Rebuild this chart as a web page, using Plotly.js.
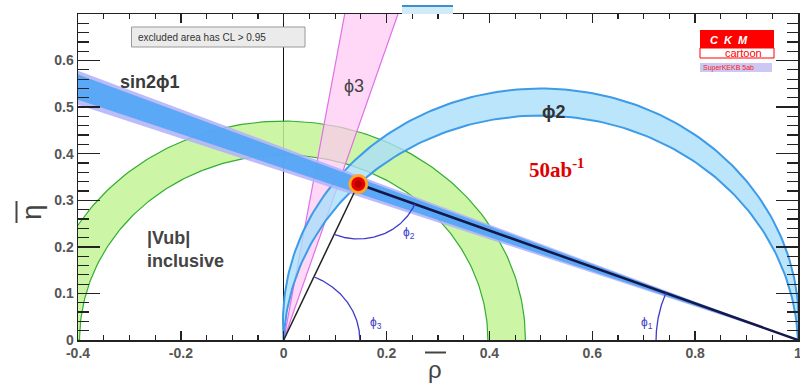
<!DOCTYPE html>
<html>
<head>
<meta charset="utf-8">
<script src="https://cdn.plot.ly/plotly-3.0.1.min.js"></script>
<style>html,body{margin:0;padding:0;background:#fff;}#chart{width:800px;height:383px;}</style>
</head>
<body>
<div id="chart"></div>
<script>
// ---- values ----
const apex = [0.145, 0.335];                 // (rho-bar, eta-bar) apex of the triangle
const baseLeft = [0, 0];
const baseRight = [1, 0];
const vubRadii = [0.397, 0.47];              // |Vub| inclusive annulus radii
const phi2Tops = [0.482, 0.54];              // phi2 band: heights of inner/outer arcs
const sin2phi1Dark = [0.516, 0.570];         // eta-bar of dark band edges at rho=-0.4
const sin2phi1Light = [0.505, 0.578];        // eta-bar of light band edges at rho=-0.4
const phi3Slopes = [3.15, 5.9];              // eta/rho of the phi3 wedge edges
const angleArcRadii = [0.276, 0.118, 0.148]; // phi1, phi2, phi3 arc radii
const xTickVals = [-0.4, -0.2, 0, 0.2, 0.4, 0.6, 0.8, 1];
const xTickText = ['-0.4', '-0.2', '0', '0.2', '0.4', '0.6', '0.8', '1'];
const yTickVals = [0, 0.1, 0.2, 0.3, 0.4, 0.5, 0.6];
const yTickText = ['0', '0.1', '0.2', '0.3', '0.4', '0.5', '0.6'];

// ---- geometry helpers ----
const N = 180;
function arc(cx, cy, r, a0, a1) {
  const xs = [], ys = [];
  for (let i = 0; i <= N; i++) {
    const a = a0 + (a1 - a0) * i / N;
    xs.push(cx + r * Math.cos(a)); ys.push(cy + r * Math.sin(a));
  }
  return [xs, ys];
}
function chordArc(h) { // circle through (0,0),(1,0) with top height h
  const c = (h * h - 0.25) / (2 * h), r = h - c;
  const a0 = Math.atan2(-c, 0.5);
  return arc(0.5, c, r, a0, Math.PI - a0);
}
function ring(r1, r2) {
  const o = arc(0, 0, r2, 0, Math.PI), i = arc(0, 0, r1, Math.PI, 0);
  return [o[0].concat(i[0]), o[1].concat(i[1])];
}
function wedgeFromRight(e1, e2) { // band through (1,0), edges given at rho=-0.4
  const s1 = e1 / 1.4, s2 = e2 / 1.4;
  return [[1, -0.6, -0.6, 1], [0, s1 * 1.6, s2 * 1.6, 0]];
}

const traces = [];
// |Vub| annulus
const g = ring(vubRadii[0], vubRadii[1]);
traces.push({x: g[0], y: g[1], mode: 'lines', fill: 'toself', fillcolor: 'rgba(196,243,150,0.85)',
  line: {color: '#34ad34', width: 1.2}, hoverinfo: 'skip'});
// phi3 wedge
traces.push({x: [0, 0.9 / phi3Slopes[0], 0.9 / phi3Slopes[1], 0], y: [0, 0.9, 0.9, 0], mode: 'lines', fill: 'toself',
  fillcolor: 'rgba(255,200,245,0.7)', line: {color: '#e070e6', width: 1.2}, hoverinfo: 'skip'});
// phi2 band
const p2o = chordArc(phi2Tops[1]), p2i = chordArc(phi2Tops[0]);
traces.push({x: p2o[0].concat(p2i[0].slice().reverse()), y: p2o[1].concat(p2i[1].slice().reverse()),
  mode: 'lines', fill: 'toself', fillcolor: 'rgba(170,222,250,0.8)', line: {color: 'rgba(0,0,0,0)', width: 0}, hoverinfo: 'skip'});
traces.push({x: p2o[0], y: p2o[1], mode: 'lines', line: {color: '#3d9be8', width: 2}, hoverinfo: 'skip'});
traces.push({x: p2i[0], y: p2i[1], mode: 'lines', line: {color: '#3d9be8', width: 2}, hoverinfo: 'skip'});
// sin2phi1 band
const sl = wedgeFromRight(sin2phi1Light[0], sin2phi1Light[1]);
traces.push({x: sl[0], y: sl[1], mode: 'lines', fill: 'toself', fillcolor: 'rgba(176,176,250,0.85)',
  line: {width: 0, color: 'rgba(0,0,0,0)'}, hoverinfo: 'skip'});
const sd = wedgeFromRight(sin2phi1Dark[0], sin2phi1Dark[1]);
traces.push({x: sd[0], y: sd[1], mode: 'lines', fill: 'toself', fillcolor: 'rgba(80,165,245,0.9)',
  line: {width: 0, color: 'rgba(0,0,0,0)'}, hoverinfo: 'skip'});
// triangle sides
traces.push({x: [baseLeft[0], apex[0]], y: [baseLeft[1], apex[1]], mode: 'lines', line: {color: '#222', width: 1.5}, hoverinfo: 'skip'});
traces.push({x: [apex[0], baseRight[0]], y: [apex[1], baseRight[1]], mode: 'lines', line: {color: '#15184a', width: 2.5}, hoverinfo: 'skip'});
// angle arcs
const angB = Math.atan2(apex[1] - baseRight[1], apex[0] - baseRight[0]);
const angG = Math.atan2(apex[1], apex[0]);
const a1 = arc(baseRight[0], baseRight[1], angleArcRadii[0], angB, Math.PI);
const a2 = arc(apex[0], apex[1], angleArcRadii[1], angG + Math.PI, angB + Math.PI);
const a3 = arc(0, 0, angleArcRadii[2], 0, angG);
[a1, a2, a3].forEach(a => traces.push({x: a[0], y: a[1], mode: 'lines', line: {color: '#3b3bc8', width: 1.3}, hoverinfo: 'skip'}));
// apex point
traces.push({x: [apex[0]], y: [apex[1]], mode: 'markers', marker: {size: 17, color: '#e80000', line: {color: '#ffa726', width: 3}}, hoverinfo: 'skip'});
traces.push({x: [apex[0]], y: [apex[1]], mode: 'markers', marker: {size: 7, color: '#b00000'}, hoverinfo: 'skip'});

// ---- layout helpers (pixel -> paper) ----
const L = 78, R = 798, T = 14, B = 340;
const px = p => (p - L) / (R - L);
const py = p => (B - p) / (B - T);

const tickFont = {family: 'Liberation Sans, Arial', size: 14, color: '#555', weight: 'bold'};
const ann = (x, y, text, font, extra) => Object.assign({xref: 'paper', yref: 'paper', x: px(x), y: py(y), text: text,
  showarrow: false, font: font, xanchor: 'left', yanchor: 'middle'}, extra || {});
const arcFont = {family: 'Liberation Sans, Arial', size: 12, color: '#3b3bc8'};

const layout = {
  width: 800, height: 383,
  margin: {l: L, r: 800 - R, t: T, b: 383 - B},
  paper_bgcolor: '#fff', plot_bgcolor: '#fff',
  showlegend: false,
  xaxis: {range: [-0.4, 1.0], tickmode: 'array', tickvals: xTickVals, ticktext: xTickText, ticklabeloverflow: 'allow',
    ticks: 'inside', ticklen: 9, tickwidth: 1.5, tickcolor: '#222', showline: true, linecolor: '#222', linewidth: 1.5,
    mirror: 'allticks', showgrid: false, zeroline: true, zerolinecolor: '#111', zerolinewidth: 1.5, tickfont: tickFont,
    minor: {tickmode: 'linear', tick0: 0, dtick: 0.05, ticks: 'inside', ticklen: 5, tickwidth: 1.2, tickcolor: '#222', showgrid: false}},
  yaxis: {range: [0, 0.7], tickmode: 'array', tickvals: yTickVals, ticktext: yTickText,
    ticks: 'inside', ticklen: 22, tickwidth: 1.5, tickcolor: '#222', showline: true, linecolor: '#222', linewidth: 1.5,
    mirror: 'allticks', showgrid: false, zeroline: false, tickfont: tickFont,
    minor: {tickmode: 'linear', tick0: 0, dtick: 0.02, ticks: 'inside', ticklen: 11, tickwidth: 1.2, tickcolor: '#222', showgrid: false}},
  shapes: [
    // legend box
    {type: 'rect', xref: 'paper', yref: 'paper', x0: px(131.5), x1: px(305), y0: py(27), y1: py(47), fillcolor: '#ebebeb', line: {color: '#999', width: 1}, layer: 'above'},
    // CKM logo
    {type: 'rect', xref: 'paper', yref: 'paper', x0: px(700), x1: px(774), y0: py(30), y1: py(48), fillcolor: '#ff0000', line: {width: 0}, layer: 'above'},
    {type: 'rect', xref: 'paper', yref: 'paper', x0: px(700), x1: px(774), y0: py(48), y1: py(58), fillcolor: '#ffffff', line: {color: '#ff0000', width: 1}, layer: 'above'},
    {type: 'rect', xref: 'paper', yref: 'paper', x0: px(700), x1: px(772), y0: py(63), y1: py(72), fillcolor: '#cbc8f2', line: {width: 0}, layer: 'above'},
    // blue fragment above the frame
    {type: 'rect', xref: 'paper', yref: 'paper', x0: px(402), x1: px(453), y0: py(6), y1: py(14), fillcolor: '#d2ebf8', line: {width: 0}, layer: 'above'},
    {type: 'line', xref: 'paper', yref: 'paper', x0: px(402), x1: px(453), y0: py(6), y1: py(6), line: {color: '#3a8fd0', width: 2}, layer: 'above'},
    // axis title bars
    {type: 'line', xref: 'paper', yref: 'paper', x0: px(425), x1: px(446), y0: py(352.5), y1: py(352.5), line: {color: '#444', width: 2}},
    {type: 'line', xref: 'paper', yref: 'paper', x0: px(16.5), x1: px(16.5), y0: py(201), y1: py(223), line: {color: '#444', width: 2}}
  ],
  annotations: [
    ann(118, 82, 'sin2ϕ1', {family: 'Liberation Sans, Arial', size: 18, color: '#3a3a3a', weight: 'bold'}),
    ann(342, 86, 'ϕ3', {family: 'Liberation Sans, Arial', size: 18, color: '#444'}),
    ann(540, 112, 'ϕ2', {family: 'Liberation Sans, Arial', size: 18, color: '#333', weight: 'bold'}),
    ann(527, 168, '50ab<sup>-1</sup>', {family: 'Liberation Serif, Times New Roman', size: 21, color: '#e00000', weight: 'bold'}),
    ann(145, 249, '|Vub|<br>inclusive', {family: 'Liberation Sans, Arial', size: 18, color: '#444', weight: 'bold'}, {align: 'left'}),
    ann(368, 323, 'ϕ<sub>3</sub>', arcFont),
    ann(401, 233, 'ϕ<sub>2</sub>', arcFont),
    ann(639, 323, 'ϕ<sub>1</sub>', arcFont),
    ann(136, 37, 'excluded area has CL &gt; 0.95', {family: 'Liberation Sans, Arial', size: 10, color: '#333'}),
    ann(708, 39.5, '<i>C  K  M</i>', {family: 'Liberation Sans, Arial', size: 11, color: '#fff', weight: 'bold'}),
    ann(723, 53, 'cartoon', {family: 'Liberation Sans, Arial', size: 11, color: '#ff0000'}),
    ann(701, 67.5, 'SuperKEKB 5ab', {family: 'Liberation Sans, Arial', size: 7, color: '#ff2020'}),
    ann(435, 354, 'ρ', {family: 'Liberation Sans, Arial', size: 24, color: '#444'}, {xanchor: 'center', yanchor: 'top'}),
    ann(31, 212, 'η', {family: 'Liberation Sans, Arial', size: 28, color: '#444'}, {xanchor: 'center', textangle: -90})
  ]
};

Plotly.newPlot('chart', traces, layout, {staticPlot: true, displayModeBar: false});
</script>
</body>
</html>
